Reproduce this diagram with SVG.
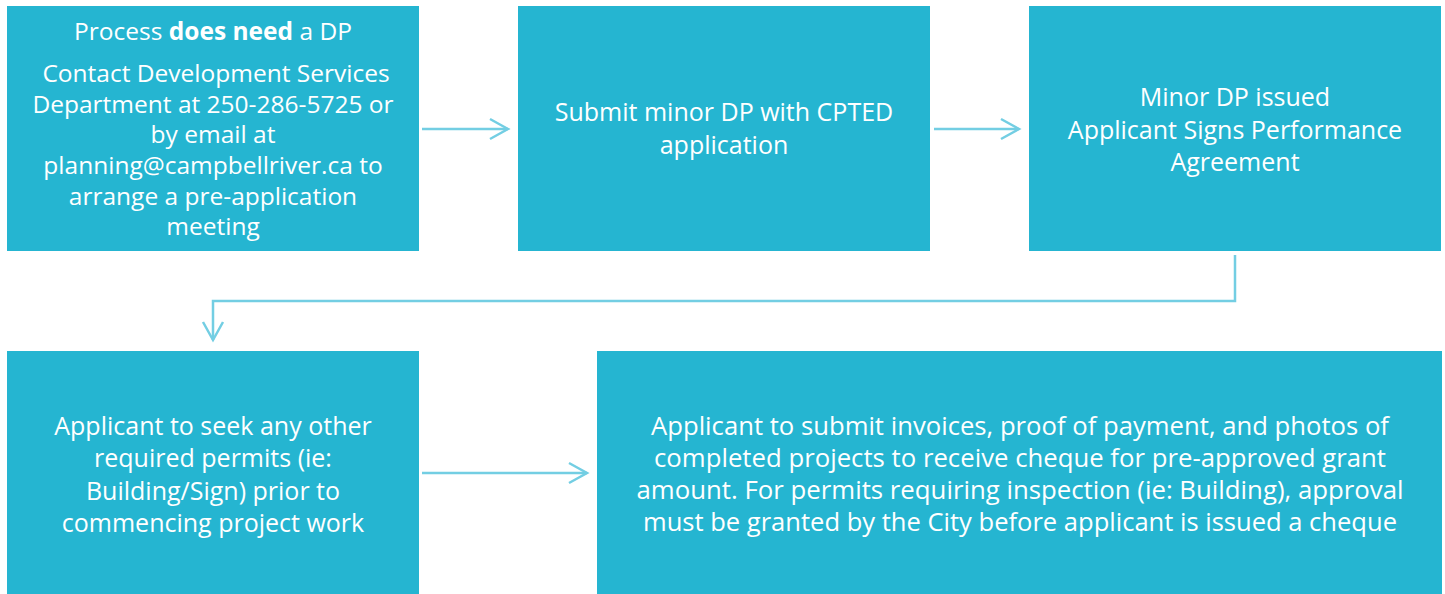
<svg xmlns="http://www.w3.org/2000/svg" width="1445" height="594" viewBox="0 0 1445 594">
<style>
.box{fill:#25B5D1}
.t{font-family:"Open Sans","Liberation Sans",sans-serif;font-size:25px;fill:#ffffff;text-anchor:middle}
.s{font-size:24.5px}
.c{fill:none;stroke:#73CEE3;stroke-width:2.5}
</style>
<rect width="1445" height="594" fill="#ffffff"/>
<g id="connectors">
<line class="c" x1="422" y1="129" x2="508" y2="129"/>
<polyline class="c" points="490,119 508,129 490,139"/>
<line class="c" x1="934" y1="129" x2="1019" y2="129"/>
<polyline class="c" points="1001,119 1019,129 1001,139"/>
<polyline class="c" points="1235,255 1235,301 213,301 213,340"/>
<polyline class="c" points="203,322 213,340 223,322"/>
<line class="c" x1="422" y1="473" x2="587" y2="473"/>
<polyline class="c" points="569,463 587,473 569,483"/>
</g>
<g id="node1">
<rect class="box" x="7" y="6" width="412" height="245"/>
<text class="t s" x="213" y="39.5">Process <tspan font-weight="bold">does need</tspan> a DP</text>
<text class="t s" x="216" y="81.5">Contact Development Services</text>
<text class="t s" x="213" y="112.5">Department at 250-286-5725 or</text>
<text class="t s" x="213" y="142.5">by email at</text>
<text class="t s" x="213" y="173.5">planning@campbellriver.ca to</text>
<text class="t s" x="213" y="204.5">arrange a pre-application</text>
<text class="t s" x="213" y="234.5">meeting</text>
</g>
<g id="node2">
<rect class="box" x="518" y="6" width="412" height="245"/>
<text class="t" x="724" y="120.5">Submit minor DP with CPTED</text>
<text class="t" x="724" y="153.5">application</text>
</g>
<g id="node3">
<rect class="box" x="1029" y="6" width="412" height="245"/>
<text class="t" x="1235" y="105.5">Minor DP issued</text>
<text class="t" x="1235" y="138.5">Applicant Signs Performance</text>
<text class="t" x="1235" y="170.5">Agreement</text>
</g>
<g id="node4">
<rect class="box" x="7" y="351" width="412" height="243"/>
<text class="t" x="213" y="434.5">Applicant to seek any other</text>
<text class="t" x="213" y="466.5">required permits (ie:</text>
<text class="t" x="213" y="499.5">Building/Sign) prior to</text>
<text class="t" x="213" y="531.5">commencing project work</text>
</g>
<g id="node5">
<rect class="box" x="597" y="351" width="845" height="243"/>
<text class="t" x="1020" y="434.5" textLength="738" lengthAdjust="spacingAndGlyphs">Applicant to submit invoices, proof of payment, and photos of</text>
<text class="t" x="1020" y="466.5" textLength="732" lengthAdjust="spacingAndGlyphs">completed projects to receive cheque for pre-approved grant</text>
<text class="t" x="1020" y="498.5" textLength="767" lengthAdjust="spacingAndGlyphs">amount. For permits requiring inspection (ie: Building), approval</text>
<text class="t" x="1020" y="530.5" textLength="754" lengthAdjust="spacingAndGlyphs">must be granted by the City before applicant is issued a cheque</text>
</g>
</svg>
